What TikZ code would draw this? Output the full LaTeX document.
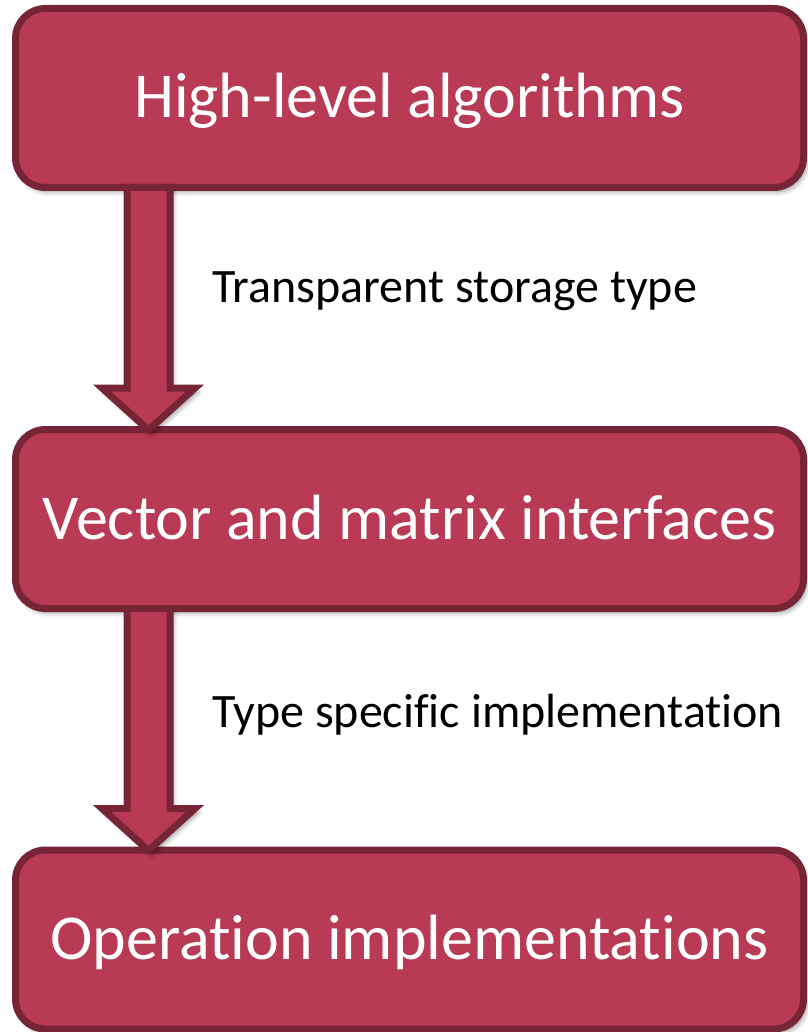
\documentclass[tikz,border=0pt]{standalone}
\usepackage{fontspec}
\setmainfont{Carlito}[Ligatures={NoCommon}]
\usetikzlibrary{calc,shadows.blur}
\definecolor{boxfill}{HTML}{B83A54}
\definecolor{boxline}{HTML}{782437}
\tikzset{
  softshadow/.style={blur shadow={shadow xshift=3pt, shadow yshift=-4pt,
      shadow blur radius=5pt, shadow opacity=45}},
  layerbox/.style={draw=boxline, fill=boxfill, line width=7pt,
      rounded corners=30pt, minimum width=788pt, minimum height=179pt,
      text=white, font=\fontsize{64}{72}\selectfont,
      text height=40pt, text depth=0pt, inner sep=0pt, softshadow},
  blockarrow/.style={draw=boxline, fill=boxfill, line width=7pt,
      line join=miter, softshadow},
  steplabel/.style={anchor=base west, inner sep=0pt,
      font=\fontsize{48}{54}\selectfont}
}
\begin{document}
\begin{tikzpicture}[x=1pt,y=-1pt]
  \useasboundingbox (0,0) rectangle (807,1032);

  % the three layers
  \node[layerbox] (b1) at (409.5,98)    {High-level algorithms};
  \node[layerbox] (b2) at (409.5,519)   {Vector and matrix interfaces};
  \node[layerbox] (b3) at (409.5,939.5) {Operation implementations};

  % axis of the block arrows
  \coordinate (ax) at (148.5,0);
  \coordinate (s1) at ($(b1.south -| ax)+(0,-3.5)$);
  \coordinate (t1) at ($(b2.north -| ax)+(0,4)$);
  \coordinate (s2) at ($(b2.south -| ax)+(0,-3.5)$);
  \coordinate (t2) at ($(b3.north -| ax)+(0,4)$);

  % downward block arrows between the layers
  \foreach \s/\t in {s1/t1, s2/t2}{
    \draw[blockarrow]
      ($(\s)+(-21.5,0)$) -- ($(\t)+(-21.5,-42)$) -- ($(\t)+(-46.5,-42)$)
      -- (\t) -- ($(\t)+(46.5,-42)$) -- ($(\t)+(21.5,-42)$)
      -- ($(\s)+(21.5,0)$) -- cycle;
  }

  % labels beside the arrows
  \node[steplabel] (l1) at (212,302) {Transparent storage type};
  \node[steplabel] (l2) at (212,727) {Type specific implementation};
\end{tikzpicture}
\end{document}
